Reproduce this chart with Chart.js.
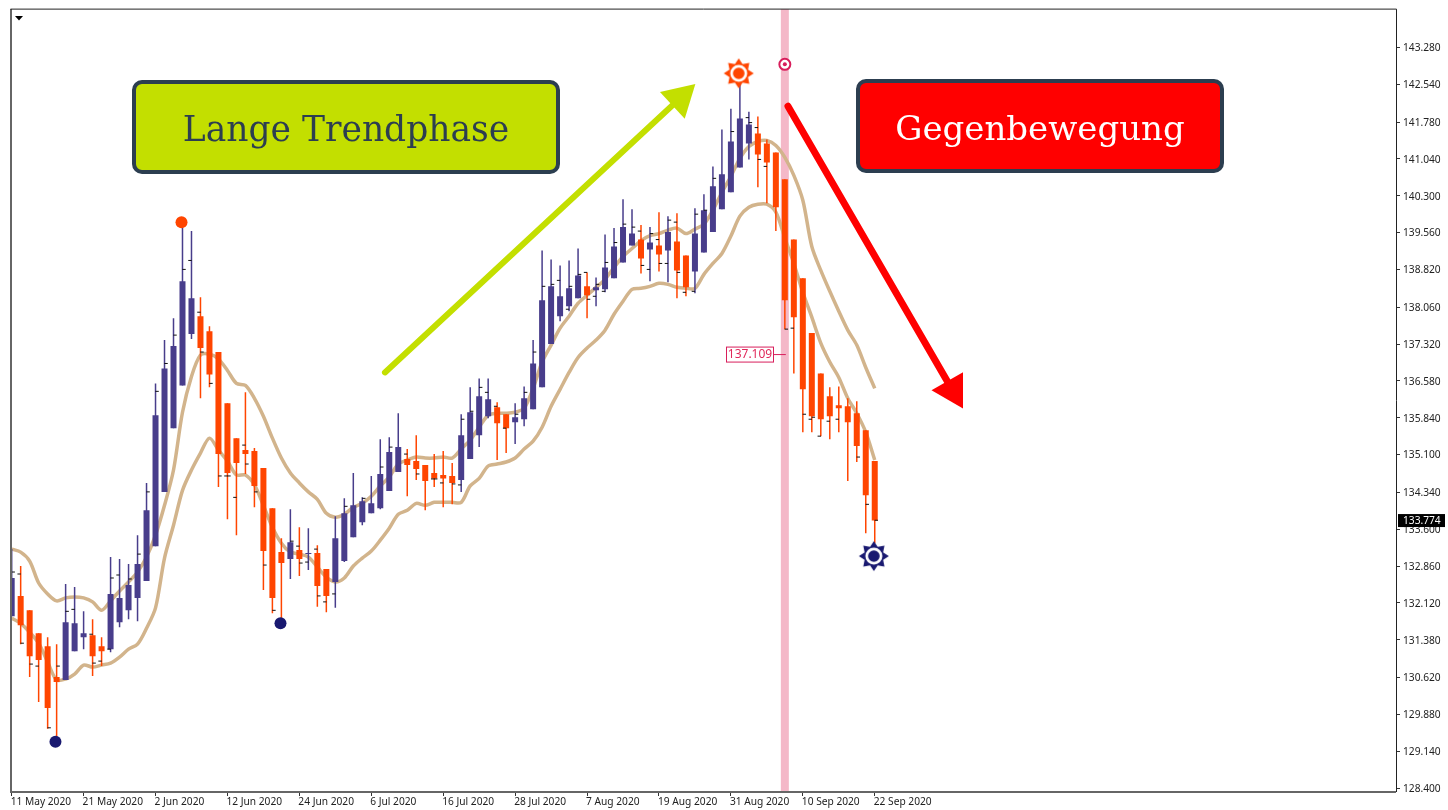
<!DOCTYPE html>
<html>
<head>
<meta charset="utf-8">
<title>Lange Trendphase</title>
<script src="https://cdn.jsdelivr.net/npm/chart.js@4/dist/chart.umd.min.js"></script>
<style>
  html, body { margin: 0; padding: 0; background: #fff; }
  canvas { display: block; }
</style>
</head>
<body>
<canvas id="priceChart" width="1448" height="810"></canvas>
<script>
const opens = [131.85,132.26,131.97,131.51,131.25,130.63,130.57,131.15,131.43,131.47,131.25,131.19,131.73,131.97,132.22,132.56,133.26,134.35,135.63,136.49,137.52,137.88,137.58,137.16,136.13,135.43,135.19,135.17,134.83,134.02,133.14,133.00,133.18,133.10,133.12,132.80,132.54,132.96,133.44,133.74,133.92,134.02,134.37,134.75,135.01,134.97,134.89,134.73,134.69,134.67,134.59,135.01,135.49,135.87,136.05,135.91,135.75,135.81,136.01,136.45,137.32,137.88,138.08,138.24,138.48,138.40,138.42,138.64,138.96,139.30,139.42,139.22,139.30,139.20,139.38,139.10,138.78,139.16,139.57,140.03,140.37,140.87,141.35,141.55,141.35,141.17,140.63,139.42,138.64,137.54,136.73,136.27,136.09,136.07,135.93,135.59,134.97];
const highs = [133.20,132.86,131.97,131.51,131.43,131.29,132.50,132.44,131.95,131.79,131.43,133.04,133.00,132.90,133.48,134.53,136.53,137.40,137.84,139.65,139.59,138.26,137.68,137.16,136.13,135.43,136.35,135.23,134.83,134.02,133.42,134.00,133.64,133.62,133.28,132.80,133.86,134.22,134.73,134.24,134.67,135.41,135.45,135.93,135.21,135.49,134.89,135.11,135.17,134.93,135.91,136.45,136.63,136.63,136.15,135.91,136.13,136.47,137.40,139.20,139.02,138.90,139.00,139.24,138.76,138.66,139.52,139.65,140.23,140.03,139.71,139.67,139.97,139.89,139.95,139.10,140.05,140.33,140.89,141.63,142.05,142.56,141.99,141.89,141.43,141.17,140.63,139.42,138.64,137.54,136.73,136.45,136.47,136.23,136.17,135.59,134.97];
const lows = [131.85,131.29,130.63,130.13,129.59,129.36,130.57,131.15,131.19,130.65,130.85,131.13,131.63,131.79,131.75,132.56,133.26,134.35,135.63,136.49,137.42,136.23,136.45,134.45,133.80,133.48,134.71,134.04,132.38,131.91,131.77,132.60,132.66,132.78,132.04,131.93,132.02,132.94,133.44,133.68,133.92,134.00,134.37,134.75,134.26,134.59,133.98,134.45,134.04,134.10,134.35,135.01,135.25,135.83,134.99,135.13,135.31,135.67,136.01,136.45,137.32,137.78,137.98,138.24,137.84,138.08,138.36,138.64,138.96,139.30,138.74,138.58,138.78,138.56,138.24,138.28,138.34,139.16,139.57,140.03,140.37,140.87,141.03,140.47,140.15,139.59,137.62,136.73,135.55,135.55,135.47,135.41,135.55,134.57,134.95,133.52,133.32];
const closes = [132.62,131.67,131.05,130.97,130.01,130.53,131.73,131.71,131.51,131.05,131.15,132.30,132.22,132.48,132.90,133.98,135.89,136.83,137.28,138.58,138.24,137.24,136.71,135.11,134.73,134.93,135.11,134.47,133.16,132.22,132.92,133.34,133.00,133.12,132.46,132.26,133.42,133.92,134.08,134.16,134.12,134.71,135.15,135.25,134.89,134.81,134.57,134.62,134.62,134.53,135.49,135.95,136.27,136.21,135.73,135.63,135.85,136.23,136.93,138.20,138.48,138.28,138.44,138.70,138.30,138.46,138.86,139.28,139.67,139.54,139.04,139.36,139.12,139.57,138.80,138.46,139.54,140.01,140.49,140.73,141.39,141.85,141.73,141.13,140.97,140.07,138.20,137.86,136.41,135.87,135.81,135.87,136.03,135.75,135.27,134.28,133.774];

const upperBand = [133.20,133.14,132.96,132.52,132.30,132.16,132.22,132.24,132.22,132.14,131.97,132.16,132.36,132.54,132.74,133.04,133.48,134.08,134.79,135.95,136.67,137.10,137.12,137.02,136.79,136.53,136.49,136.23,135.87,135.43,135.03,134.73,134.53,134.35,134.20,133.92,133.84,133.90,134.04,134.12,134.26,134.47,134.65,134.91,134.99,135.05,135.03,135.03,135.05,135.03,135.21,135.39,135.65,135.89,135.93,135.93,135.95,136.03,136.43,136.96,137.30,137.64,137.88,138.14,138.30,138.46,138.62,138.86,139.08,139.24,139.40,139.50,139.54,139.61,139.65,139.54,139.63,139.73,140.01,140.37,140.69,141.05,141.29,141.39,141.41,141.31,141.07,140.71,140.21,139.28,138.80,138.38,137.98,137.60,137.30,136.85,136.43];
const lowerBand = [131.81,131.71,131.53,131.31,130.93,130.57,130.59,130.69,130.87,130.83,130.87,130.91,131.03,131.19,131.29,131.61,132.02,133.02,133.68,134.38,134.79,135.13,135.43,135.19,134.97,134.69,134.69,134.49,134.08,133.64,133.32,133.14,133.10,133.04,132.84,132.64,132.54,132.62,132.86,133.02,133.16,133.38,133.62,133.90,133.98,134.12,134.08,134.14,134.14,134.14,134.14,134.47,134.62,134.87,134.91,134.95,135.03,135.21,135.37,135.65,136.07,136.41,136.75,137.05,137.24,137.40,137.60,137.92,138.18,138.42,138.44,138.48,138.54,138.52,138.46,138.44,138.44,138.72,138.94,139.14,139.49,139.89,140.07,140.13,140.13,139.97,139.45,138.94,138.36,137.86,137.34,136.96,136.65,136.23,135.93,135.55,134.99];

// small black dashes beside the candles
const dashSlots = [0.17,0.83,1.17,2.17,2.83,4.17,5.17,6.17,6.83,8.83,9.17,9.83,10.83,11.17,11.83,13.17,14.17,15.17,16.17,17.17,18.17,19.17,19.83,20.83,21.17,22.17,23.17,23.83,24.17,24.83,25.83,26.17,27.17,28.17,29.17,31.17,31.83,32.17,32.83,33.83,34.17,34.83,35.83,37.17,39.17,41.17,42.17,43.83,45.17,46.83,47.17,47.83,49.17,50.17,49.83,51.17,52.17,52.83,53.83,54.83,56.17,57.17,58.17,59.17,60.17,60.83,62.17,61.83,63.17,63.83,64.17,65.17,64.83,66.17,65.83,67.17,68.17,69.17,69.83,70.17,71.17,70.83,71.83,72.17,73.17,72.83,73.83,74.17,74.83,76.17,75.83,77.17,78.17,80.17,81.83,82.17,82.83,83.17,83.83,86.17,86.83,88.17,88.83,89.17,89.83,90.83,91.83,94.17,95.17,96.17];
const dashPrices = [132.74,132.70,131.31,130.89,130.85,129.61,130.85,131.95,131.99,131.49,130.91,130.95,131.19,132.62,132.68,132.60,133.10,134.35,136.37,136.93,137.50,138.82,139.00,137.96,137.16,136.53,134.67,134.67,134.67,134.24,135.29,134.91,134.35,132.88,131.97,133.36,133.26,132.92,132.94,133.20,132.26,132.14,132.30,134.06,134.22,134.85,135.25,135.11,134.71,134.61,134.61,134.53,134.51,135.81,134.49,135.97,136.45,136.35,136.07,135.63,135.91,136.35,137.16,138.48,138.52,138.60,138.48,138.02,138.72,138.76,138.22,138.52,138.28,138.96,138.38,139.36,139.73,139.67,139.59,138.90,139.54,138.82,139.42,138.94,139.81,138.94,139.77,138.76,138.36,139.93,138.38,140.01,140.65,141.59,141.87,141.77,141.67,141.03,140.89,137.62,137.64,135.91,135.81,135.85,135.47,135.77,135.81,135.05,134.10,133.78];

const dateBars = [0,8,16,24,32,40,48,56,64,72,80,88,96];
const dateLabels = ["11 May 2020","21 May 2020","2 Jun 2020","12 Jun 2020","24 Jun 2020","6 Jul 2020","16 Jul 2020","28 Jul 2020","7 Aug 2020","19 Aug 2020","31 Aug 2020","10 Sep 2020","22 Sep 2020"];
const priceTicks = [143.28,142.54,141.78,141.04,140.30,139.56,138.82,138.06,137.32,136.58,135.84,135.10,134.34,133.60,132.86,132.12,131.38,130.62,129.88,129.14,128.40];

const bandBar = 86;
const peakDots = { bars: [18.89], prices: [139.77] };
const troughDots = { bars: [4.87, 29.9], prices: [129.33, 131.71] };
const limeArrowBars = [41.52, 74.34];
const limeArrowPrices = [136.75, 142.26];
const redArrowBars = [86.35, 104.65];
const redArrowPrices = [142.10, 136.39];
const hlinePrice = 137.109;
const lastPrice = 133.774;

const UP = "#483D8B";
const DOWN = "#FF4500";
const TAN = "#D2B48C";
const NAVY = "#191970";
const LIME = "#C3DF00";
const SLATE = "#2C3E50";
const CRIMSON = "#D81E5B";
const Y_MIN = 128.32;
const Y_MAX = 144.05;

const bars = opens.map((_, i) => i);
const isUp = i => closes[i] >= opens[i];
const pairs = (xs, ys) => xs.map((x, i) => ({ x, y: ys[i] }));

// sun marker used at the two turning points
const makeSun = color => {
  const c = document.createElement("canvas");
  c.width = c.height = 32;
  const g = c.getContext("2d");
  g.translate(16, 16);
  g.fillStyle = color;
  g.beginPath();
  for (let k = 0; k < 16; k++) {
    const r = k % 2 ? 10 : 15;
    const a = k * Math.PI / 8 - Math.PI / 2;
    g.lineTo(Math.cos(a) * r, Math.sin(a) * r);
  }
  g.closePath();
  g.fill();
  g.fillStyle = "#fff";
  g.beginPath();
  g.arc(0, 0, 8.5, 0, Math.PI * 2);
  g.fill();
  g.fillStyle = color;
  g.beginPath();
  g.arc(0, 0, 5.8, 0, Math.PI * 2);
  g.fill();
  return c;
};

const overlay = {
  id: "overlay",
  afterDatasetsDraw(chart) {
    const { ctx, chartArea: a, scales } = chart;
    const yPos = scales.y.getPixelForValue(hlinePrice);
    const bandX = scales.x.getPixelForValue(bandBar);

    // frame
    ctx.save();
    ctx.strokeStyle = "#666";
    ctx.lineWidth = 2;
    ctx.beginPath();
    ctx.moveTo(a.left - 0.5, a.top);
    ctx.lineTo(a.left - 0.5, a.bottom);
    ctx.lineTo(a.right, a.bottom);
    ctx.stroke();
    ctx.strokeStyle = "#222";
    ctx.lineWidth = 1;
    ctx.beginPath();
    ctx.moveTo(a.left - 1, a.top);
    ctx.lineTo(a.right + 0.5, a.top);
    ctx.lineTo(a.right + 0.5, a.bottom);
    ctx.stroke();

    // menu triangle
    ctx.fillStyle = "#000";
    ctx.beginPath();
    ctx.moveTo(15, 16);
    ctx.lineTo(23, 16);
    ctx.lineTo(19, 20.5);
    ctx.fill();

    // text boxes
    const box = (x, y, w, h, fill, color, text, size) => {
      ctx.beginPath();
      ctx.roundRect(x, y, w, h, 8);
      ctx.fillStyle = fill;
      ctx.fill();
      ctx.lineWidth = 4;
      ctx.strokeStyle = SLATE;
      ctx.stroke();
      ctx.fillStyle = color;
      ctx.font = size + 'px "DejaVu Serif"';
      ctx.textAlign = "center";
      ctx.textBaseline = "alphabetic";
      ctx.fillText(text, x + w / 2, y + 59);
    };
    box(134, 82, 424, 90, LIME, SLATE, "Lange Trendphase", 34.5);
    box(858, 81, 364, 90, "#FF0000", "#fff", "Gegenbewegung", 34);

    // level label
    ctx.strokeStyle = CRIMSON;
    ctx.lineWidth = 1;
    ctx.beginPath();
    ctx.moveTo(774, yPos);
    ctx.lineTo(bandX + 1, yPos);
    ctx.stroke();
    ctx.fillStyle = "#fff";
    ctx.fillRect(726.5, yPos - 7.5, 47, 15);
    ctx.strokeRect(726.5, yPos - 7.5, 47, 15);
    ctx.fillStyle = "#E0285A";
    ctx.font = '12px "Noto Sans"';
    ctx.textAlign = "center";
    ctx.textBaseline = "middle";
    ctx.fillText(hlinePrice.toFixed(3), 750, yPos + 0.5);

    // last price tag
    const lastY = scales.y.getPixelForValue(lastPrice);
    ctx.fillStyle = "#000";
    ctx.fillRect(1398, lastY - 6.5, 47, 13);
    ctx.fillStyle = "#fff";
    ctx.font = '10.2px "Noto Sans"';
    ctx.textAlign = "left";
    ctx.fillText(lastPrice.toFixed(3), 1403, lastY + 0.5);
    ctx.restore();
  }
};

new Chart(document.getElementById("priceChart"), {
  type: "bar",
  plugins: [overlay],
  data: {
    datasets: [
      {
        label: "Red arrow", type: "line", order: 1, clip: false,
        data: pairs(redArrowBars, redArrowPrices),
        borderColor: "#FF0000", borderWidth: 7, borderCapStyle: "round",
        pointStyle: "triangle", pointRotation: 150,
        pointRadius: [0, 21], pointBackgroundColor: "#FF0000", pointBorderWidth: 0
      },
      {
        label: "Lime arrow", type: "line", order: 1, clip: false,
        data: pairs(limeArrowBars, limeArrowPrices),
        borderColor: LIME, borderWidth: 6, borderCapStyle: "round",
        pointStyle: "triangle", pointRotation: 47,
        pointRadius: [0, 21], pointBackgroundColor: LIME, pointBorderWidth: 0
      },
      {
        label: "Peak dots", type: "line", showLine: false, order: 1,
        data: pairs(peakDots.bars, peakDots.prices),
        pointRadius: 6, pointBackgroundColor: DOWN, pointBorderWidth: 0
      },
      {
        label: "Trough dots", type: "line", showLine: false, order: 1,
        data: pairs(troughDots.bars, troughDots.prices),
        pointRadius: 6, pointBackgroundColor: NAVY, pointBorderWidth: 0
      },
      {
        label: "Sun high", type: "line", showLine: false, order: 1,
        data: [{ x: 80.87, y: 142.76 }],
        pointStyle: makeSun(DOWN), pointRadius: 15
      },
      {
        label: "Sun low", type: "line", showLine: false, order: 1,
        data: [{ x: 95.9, y: 133.06 }],
        pointStyle: makeSun(NAVY), pointRadius: 15
      },
      {
        label: "Signal ring", type: "line", showLine: false, order: 1,
        data: [{ x: bandBar, y: 142.94 }],
        pointRadius: 5.5, pointBackgroundColor: "#fff",
        pointBorderColor: CRIMSON, pointBorderWidth: 2
      },
      {
        label: "Signal dot", type: "line", showLine: false, order: 0,
        data: [{ x: bandBar, y: 142.94 }],
        pointRadius: 2, pointBackgroundColor: CRIMSON, pointBorderWidth: 0
      },
      {
        label: "Dashes", type: "line", showLine: false, order: 2,
        data: pairs(dashSlots, dashPrices),
        pointStyle: "line", pointRadius: 1.7,
        pointBorderColor: "#111", pointBorderWidth: 1
      },
      {
        label: "Bodies", order: 3, grouped: false, barThickness: 6, inflateAmount: 0,
        data: bars.map(i => ({ x: i, y: [opens[i], closes[i]] })),
        backgroundColor: bars.map(i => isUp(i) ? UP : DOWN)
      },
      {
        label: "Wicks", order: 4, grouped: false, barThickness: 1.5, inflateAmount: 0,
        data: bars.map(i => ({ x: i, y: [lows[i], highs[i]] })),
        backgroundColor: bars.map(i => isUp(i) ? UP : DOWN)
      },
      {
        label: "Upper band", type: "line", order: 5,
        data: pairs(bars, upperBand),
        borderColor: TAN, borderWidth: 3.5, pointRadius: 0, tension: 0.3
      },
      {
        label: "Lower band", type: "line", order: 5,
        data: pairs(bars, lowerBand),
        borderColor: TAN, borderWidth: 3.5, pointRadius: 0, tension: 0.3
      },
      {
        label: "Signal bar", order: 6, grouped: false, barThickness: 8, inflateAmount: 0,
        data: [{ x: bandBar, y: [Y_MIN, Y_MAX] }],
        backgroundColor: "#F4B8C8"
      }
    ]
  },
  options: {
    responsive: false,
    animation: false,
    layout: { autoPadding: false, padding: { left: 11.5, top: 8.5 } },
    plugins: { legend: { display: false }, tooltip: { enabled: false } },
    scales: {
      x: {
        type: "linear", offset: false, bounds: "data",
        min: -0.02, max: 153.98,
        grid: { offset: false, drawOnChartArea: false, tickLength: 4, color: "#333" },
        border: { display: false },
        afterBuildTicks: axis => { axis.ticks = dateBars.map(value => ({ value })); },
        afterFit: axis => { axis.height = 18; },
        ticks: {
          autoSkip: false, maxRotation: 0, align: "start", padding: 0, labelOffset: -1,
          color: "#222", font: { family: "Noto Sans", size: 10.2 },
          callback: v => dateLabels[dateBars.indexOf(v)]
        }
      },
      y: {
        type: "linear", position: "right", bounds: "data",
        min: Y_MIN, max: Y_MAX,
        grid: { drawOnChartArea: false, tickLength: 4, color: "#333" },
        border: { display: false },
        afterBuildTicks: axis => { axis.ticks = priceTicks.map(value => ({ value })); },
        afterFit: axis => { axis.width = 52; },
        ticks: {
          autoSkip: false, padding: 3, labelOffset: 1,
          color: "#222", font: { family: "Noto Sans", size: 10.2 },
          callback: v => v.toFixed(3)
        }
      }
    }
  }
});
</script>
</body>
</html>
